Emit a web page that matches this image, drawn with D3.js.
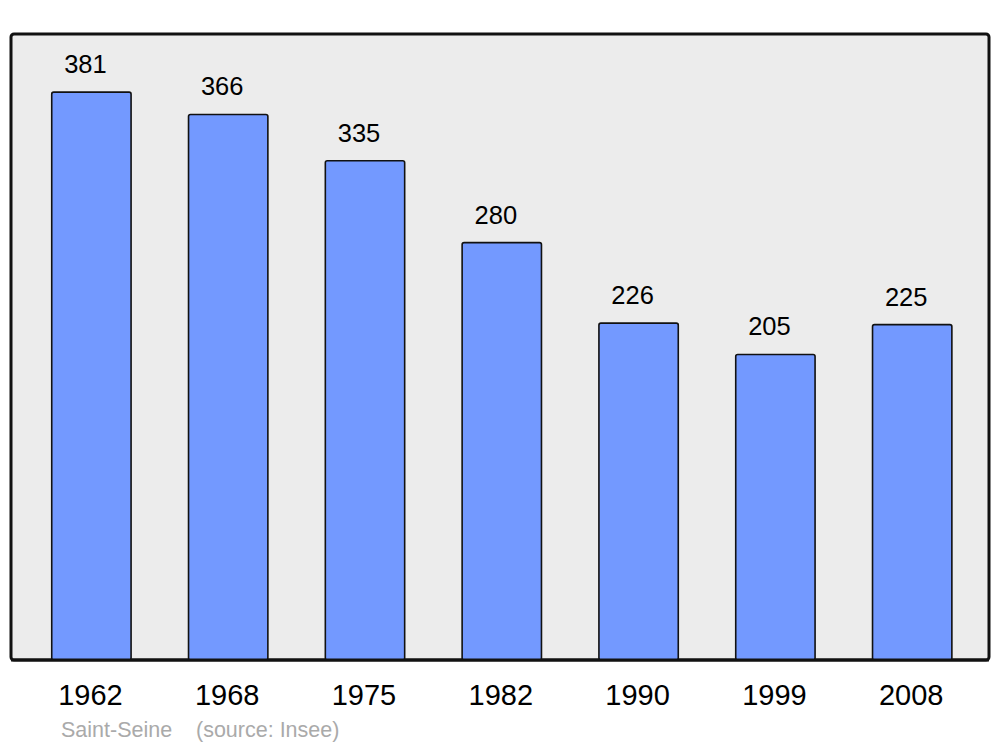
<!DOCTYPE html>
<html>
<head>
<meta charset="utf-8">
<script src="https://cdn.jsdelivr.net/npm/d3@7"></script>
<style>
  body { margin: 0; background: #ffffff; }
  svg { display: block; font-family: "Liberation Sans", Arial, sans-serif; }
</style>
</head>
<body>
<svg id="chart" width="1000" height="747"></svg>
<script>
// population per census year
var years = ["1962", "1968", "1975", "1982", "1990", "1999", "2008"];
var population = [381, 366, 335, 280, 226, 205, 225];
var commune = "Saint-Seine";
var source = "(source: Insee)";

var svg = d3.select("#chart");

var panel = { left: 11, right: 989, top: 34, bottom: 660 };

var x = d3.scaleBand()
    .domain(years)
    .range([23, 980.6])
    .paddingInner(0.42)
    .paddingOuter(0.21);

var y = d3.scaleLinear()
    .domain([0, 420])
    .range([panel.bottom, panel.top]);

// background panel
svg.append("rect")
    .attr("x", panel.left)
    .attr("y", panel.top)
    .attr("width", panel.right - panel.left)
    .attr("height", panel.bottom - panel.top)
    .attr("rx", 3)
    .attr("fill", "#ececec")
    .attr("stroke", "#111")
    .attr("stroke-width", 3);

var data = years.map(function(d, i) { return { year: d, value: population[i] }; });

svg.selectAll(".bar")
    .data(data).enter().append("rect")
    .attr("class", "bar")
    .attr("x", function(d) { return x(d.year); })
    .attr("y", function(d) { return y(d.value); })
    .attr("width", x.bandwidth())
    .attr("height", function(d) { return y(0) - y(d.value); })
    .attr("rx", 2)
    .attr("fill", "#7399ff")
    .attr("stroke", "#111")
    .attr("stroke-width", 1.6);

// redraw bottom edge of panel over the bars
svg.append("line")
    .attr("x1", panel.left)
    .attr("x2", panel.right)
    .attr("y1", panel.bottom)
    .attr("y2", panel.bottom)
    .attr("stroke", "#111")
    .attr("stroke-width", 3);

svg.selectAll(".value")
    .data(data).enter().append("text")
    .attr("class", "value")
    .attr("x", function(d) { return x(d.year) + x.bandwidth() / 2 - 6; })
    .attr("y", function(d) { return y(d.value) - 19; })
    .attr("text-anchor", "middle")
    .attr("font-size", 25.5)
    .attr("fill", "#000")
    .text(function(d) { return d.value; });

svg.selectAll(".year")
    .data(years).enter().append("text")
    .attr("class", "year")
    .attr("x", function(d) { return x(d) + x.bandwidth() / 2 - 1; })
    .attr("y", 705)
    .attr("text-anchor", "middle")
    .attr("font-size", 29)
    .attr("fill", "#000")
    .text(function(d) { return d; });

svg.append("text")
    .attr("x", 61)
    .attr("y", 737)
    .attr("font-size", 21.5)
    .attr("fill", "#aaaaaa")
    .text(commune);

svg.append("text")
    .attr("x", 196)
    .attr("y", 737)
    .attr("font-size", 21.5)
    .attr("fill", "#aaaaaa")
    .text(source);
</script>
</body>
</html>
